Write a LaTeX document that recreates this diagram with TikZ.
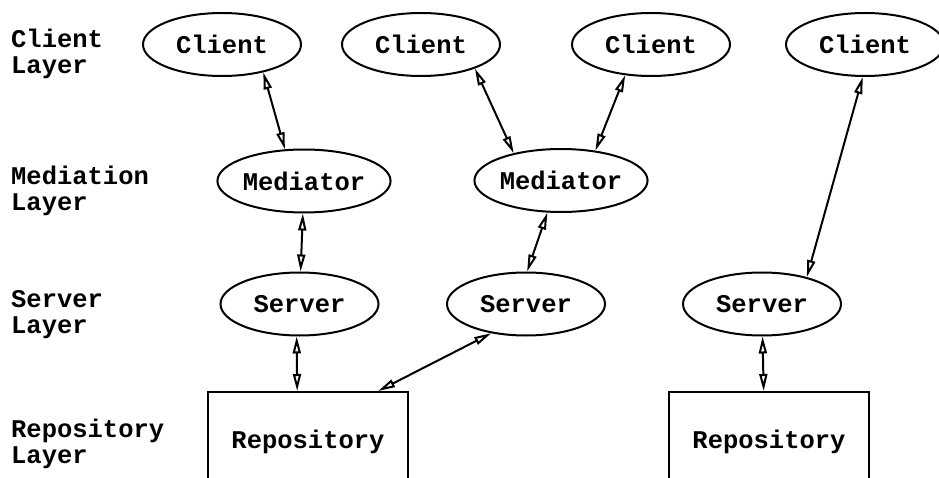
\documentclass[tikz,border=0pt]{standalone}
\usepackage{fontspec}
\setmonofont{Liberation Mono}
\usetikzlibrary{arrows.meta,shapes.geometric}
\tikzset{
  ell/.style={draw, line width=2pt, ellipse, minimum width=158pt, minimum height=63pt, inner sep=0pt, font=\fontsize{25.5}{26.5}\selectfont\ttfamily\bfseries},
  repo/.style={draw, line width=2pt, rectangle, minimum width=200pt, minimum height=100pt, inner sep=0pt, font=\fontsize{25.5}{26.5}\selectfont\ttfamily\bfseries},
  lbl/.style={anchor=west, inner sep=0pt, align=left, font=\fontsize{25.5}{26}\selectfont\ttfamily\bfseries},
  conn/.style={line width=2pt, {Triangle[open, length=17pt, width=8pt]}-{Triangle[open, length=17pt, width=8pt]}}
}
\begin{document}
\begin{tikzpicture}[x=1pt,y=-1pt]
\useasboundingbox (0,0) rectangle (939,478);
\clip (0,0) rectangle (939,478);
% layer labels
\node[lbl] (lc) at (11,54) {Client\\Layer};
\node[lbl] (lm) at (11,191) {Mediation\\Layer};
\node[lbl] (ls) at (11,314.5) {Server\\Layer};
\node[lbl] (lr) at (11,444) {Repository\\Layer};
% clients
\node[ell] (c1) at (222,44.5) {Client};
\node[ell] (c2) at (421,44.5) {Client};
\node[ell] (c3) at (651,44.5) {Client};
\node[ell] (c4) at (865,44.5) {Client};
% mediators
\node[ell] (m1) at (304,181) {Mediator};
\node[ell] (m2) at (561,180.5) {Mediator};
% servers
\node[ell] (s1) at (299.5,304) {Server};
\node[ell] (s2) at (526,304) {Server};
\node[ell] (s3) at (762,304) {Server};
% repositories
\node[repo] (r1) at (308,442) {Repository};
\node[repo] (r2) at (769,442) {Repository};
% connectors
\draw[conn] (c1.-34.5) -- (m1.121.7);
\draw[conn] (c2.-24.9) -- (m2.150.5);
\draw[conn] (c3.-130.6) -- (m2.41);
\draw[conn] (c4.-94) -- (s3.31.7);
\draw[conn] (m1.-92) -- (s1.88);
\draw[conn] (m2.-113.6) -- (s2.88);
\draw[conn] (s1.-95) -- (r1.102.7);
\draw[conn] (s2.-140) -- (r1.36.6);
\draw[conn] (s3.-89) -- (r2.96.8);
\end{tikzpicture}
\end{document}
